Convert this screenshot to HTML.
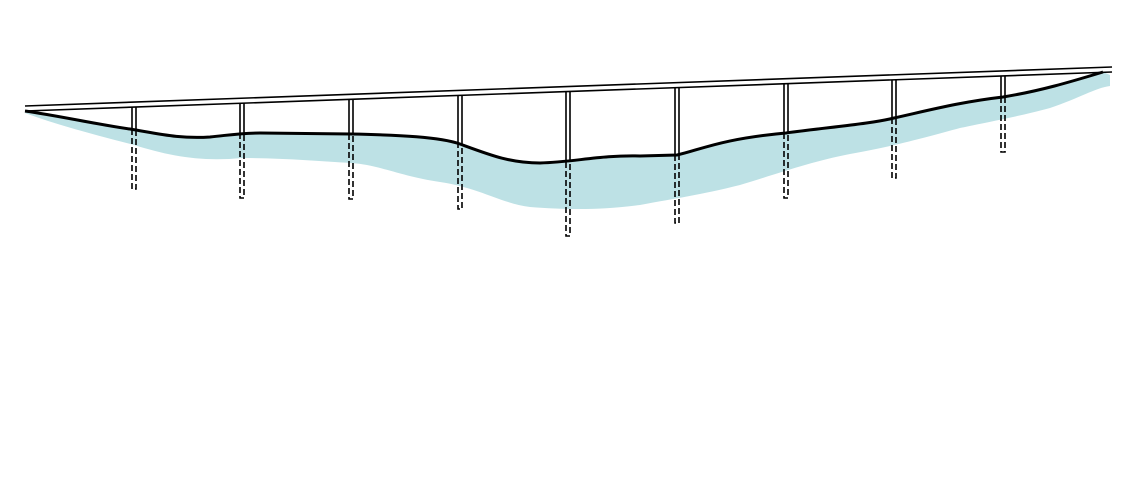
<!DOCTYPE html>
<html><head><style>html,body{margin:0;padding:0;background:#fff;}svg{display:block}</style></head>
<body>
<svg width="1135" height="501" viewBox="0 0 1135 501" xmlns="http://www.w3.org/2000/svg">
<path d="M25,111 C60,116 100,125 130,129 C160,134 180,139 210,137 C230,135 240,133 260,133 L351,134 C400,135 440,137 460,144 C490,155 510,163 540,163 C575,162 600,155 640,156 L677,155 C700,150 720,139 786,133 C830,127 870,124 894,118 C930,110 960,102 1003,97 C1040,91 1070,82 1103,72 L1110,75 L1110,86 C1095,88 1080,98 1050,108 C1020,116 1003,119 960,128 C930,136 900,145 850,154 C810,162 786,171 740,185 C700,195 677,198 640,205 C600,210 570,210 530,207 C500,203 480,188 440,182 C400,176 380,165 351,163 C320,161 280,158 242,158 C200,162 170,156 134,145 C100,136 60,126 25,113 Z" fill="#bde1e5"/>
<g stroke="#000" stroke-width="1.6" fill="none">
<line x1="25" y1="106" x2="1112" y2="67"/>
<line x1="25" y1="111" x2="1112" y2="72"/>
</g>
<g stroke="#000" stroke-width="1.6" fill="none">
<path d="M132,107 V129 M136,107 V129"/><path d="M132,129 V189 H136 V129" stroke-dasharray="6,3"/>
<path d="M240,103 V133 M244,103 V133"/><path d="M240,133 V198 H244 V133" stroke-dasharray="6,3"/>
<path d="M349,99 V134 M353,99 V134"/><path d="M349,134 V199 H353 V134" stroke-dasharray="6,3"/>
<path d="M458,95 V142 M462,95 V142"/><path d="M458,142 V209 H462 V142" stroke-dasharray="6,3"/>
<path d="M566,91 V162 M570,91 V162"/><path d="M566,162 V236 H570 V162" stroke-dasharray="6,3"/>
<path d="M675,88 V155 M679,88 V155"/><path d="M675,155 V223 H679 V155" stroke-dasharray="6,3"/>
<path d="M784,84 V133 M788,84 V133"/><path d="M784,133 V198 H788 V133" stroke-dasharray="6,3"/>
<path d="M892,80 V118 M896,80 V118"/><path d="M892,118 V178 H896 V118" stroke-dasharray="6,3"/>
<path d="M1001,76 V97 M1005,76 V97"/><path d="M1001,97 V152 H1005 V97" stroke-dasharray="6,3"/>
</g>
<path d="M25,111 C60,116 100,125 130,129 C160,134 180,139 210,137 C230,135 240,133 260,133 L351,134 C400,135 440,137 460,144 C490,155 510,163 540,163 C575,162 600,155 640,156 L677,155 C700,150 720,139 786,133 C830,127 870,124 894,118 C930,110 960,102 1003,97 C1040,91 1070,82 1103,72" stroke="#000" stroke-width="3" fill="none"/>
</svg>
</body></html>
